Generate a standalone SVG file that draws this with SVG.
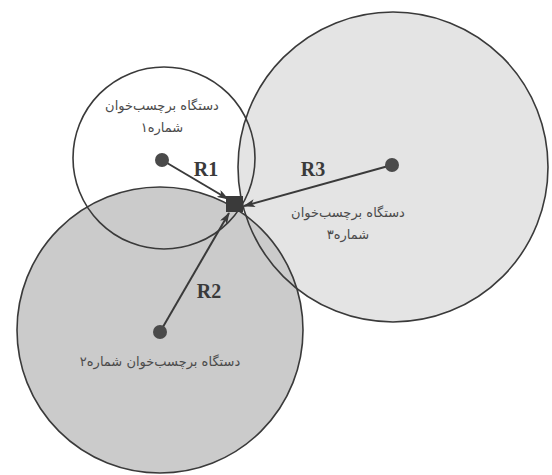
<svg xmlns="http://www.w3.org/2000/svg" width="552" height="475" viewBox="0 0 552 475">
<style>
.ring{fill:none;stroke:#3a3a3a;stroke-width:1.6}
.dot{fill:#4a4a4a}
.conn{stroke:#3a3a3a;stroke-width:2;fill:none;marker-end:url(#ah)}
.fa{font-family:"DejaVu Sans","Noto Sans",sans-serif;font-size:13px;fill:#4a4a4a;text-anchor:middle;direction:rtl}
.r{font-family:"Liberation Serif","DejaVu Serif",serif;font-size:20px;font-weight:bold;fill:#3a3a3a;text-anchor:middle}
</style>
<defs>
<marker id="ah" viewBox="0 0 12 8" refX="11" refY="4" markerWidth="12" markerHeight="8" markerUnits="userSpaceOnUse" orient="auto">
<path d="M0,0 L12,4 L0,8 L3,4 Z" fill="#3a3a3a"/>
</marker>
</defs>
<rect width="552" height="475" fill="#ffffff"/>
<g id="zone3"><circle cx="393" cy="167" r="155" fill="#e4e4e4"/></g>
<g id="zone2"><circle cx="160" cy="330" r="143" fill="#cbcbcb"/></g>
<g id="rings">
<circle class="ring" cx="393" cy="167" r="155"/>
<circle class="ring" cx="160" cy="330" r="143"/>
<circle class="ring" cx="164" cy="158" r="91"/>
</g>
<g id="connectors">
<line class="conn" x1="162" y1="160" x2="228" y2="199"/>
<line class="conn" x1="392" y1="165" x2="244" y2="206"/>
<line class="conn" x1="160" y1="332" x2="229" y2="213"/>
</g>
<g id="reader1">
<circle class="dot" cx="162" cy="160" r="7"/>
<text class="fa" x="162" y="110">دستگاه برچسب‌خوان</text>
<text class="fa" x="162" y="132">شماره۱</text>
</g>
<g id="reader2">
<circle class="dot" cx="160" cy="332" r="7"/>
<text class="fa" x="160" y="366">دستگاه برچسب‌خوان شماره۲</text>
</g>
<g id="reader3">
<circle class="dot" cx="392" cy="165" r="7"/>
<text class="fa" x="348" y="217">دستگاه برچسب‌خوان</text>
<text class="fa" x="348" y="239">شماره۳</text>
</g>
<g id="tag"><rect x="226" y="196" width="17" height="16" fill="#3a3a3a"/></g>
<g id="labels">
<text class="r" x="206" y="176">R1</text>
<text class="r" x="313" y="176">R3</text>
<text class="r" x="209" y="298">R2</text>
</g>
</svg>
